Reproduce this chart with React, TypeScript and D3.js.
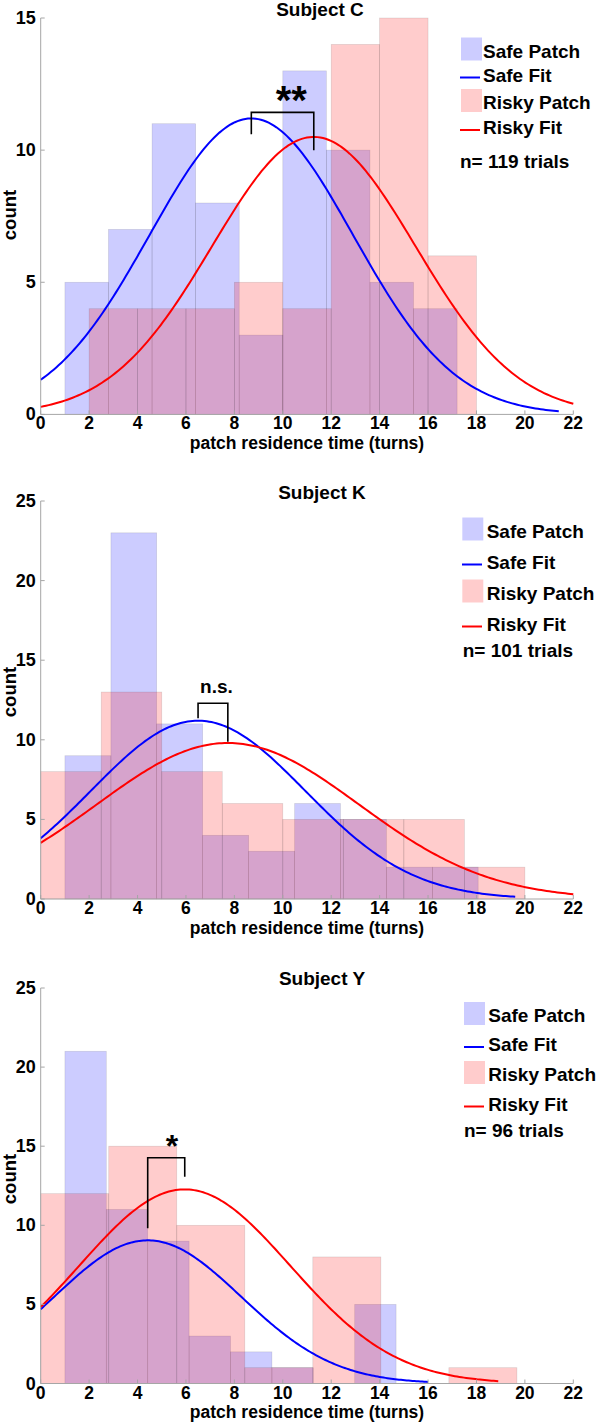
import React from 'react';
import * as d3 from 'd3';

// ---------- data ----------
const xTickValues = [0, 2, 4, 6, 8, 10, 12, 14, 16, 18, 20, 22];
const yTicksC = [0, 5, 10, 15];
const yTicksK = [0, 5, 10, 15, 20, 25];
const yTicksY = [0, 5, 10, 15, 20, 25];

const titles = ['Subject C', 'Subject K', 'Subject Y'];
const trialCounts = [119, 101, 96];
const signifLabels = ['**', 'n.s.', '*'];
const legendLabels = ['Safe Patch', 'Safe Fit', 'Risky Patch', 'Risky Fit'];
const xLabel = 'patch residence time (turns)';
const yLabel = 'count';

// Subject C
const safeEdgesC = [1, 2.8, 4.6, 6.4, 8.2, 10.0, 11.8, 13.6, 15.4, 17.2];
const safeCountsC = [5, 7, 11, 8, 3, 13, 10, 5, 4];
const riskyEdgesC = [2, 4, 6, 8, 10, 12, 14, 16, 18];
const riskyCountsC = [4, 4, 4, 5, 4, 14, 15, 6];
// fit: [amplitude, mean, sd, xStart, xEnd]
const safeFitC = [11.2, 8.7, 4.2, 0, 21.4];
const riskyFitC = [10.5, 11.28, 4.2, 0, 22];
// bracket: [xLeft, xRight, yTop, yLeftBottom, yRightBottom]
const bracketC = [8.7, 11.28, 11.43, 10.6, 10.0];

// Subject K
const safeEdgesK = [1, 2.9, 4.79, 6.69, 8.59, 10.49, 12.38, 14.28, 16.18, 18.07];
const safeCountsK = [9, 23, 11, 4, 3, 6, 5, 2, 2];
const riskyEdgesK = [0, 2.5, 5, 7.5, 10, 12.5, 15, 17.5, 20];
const riskyCountsK = [8, 13, 8, 6, 5, 5, 5, 2];
const safeFitK = [11.2, 6.5, 4.43, 0, 19.6];
const riskyFitK = [9.8, 7.73, 5.41, 0, 22];
const bracketK = [6.5, 7.73, 12.3, 11.35, 9.88];

// Subject Y
const safeEdgesY = [1, 2.71, 4.42, 6.13, 7.84, 9.55, 11.26, 12.97, 14.68];
const safeCountsY = [21, 11, 9, 3, 2, 1, 0, 5];
const riskyEdgesY = [0, 2.81, 5.62, 8.43, 11.24, 14.05, 16.86, 19.67];
const riskyCountsY = [12, 15, 10, 1, 8, 0, 1];
const safeFitY = [9.05, 4.42, 3.86, 0, 16];
const riskyFitY = [12.27, 5.95, 4.36, 0, 18.9];
const bracketY = [4.42, 5.95, 14.27, 9.81, 13.07];

const panelsData = [
  { safeEdges: safeEdgesC, safeCounts: safeCountsC, riskyEdges: riskyEdgesC, riskyCounts: riskyCountsC, safeFit: safeFitC, riskyFit: riskyFitC, bracket: bracketC, yTicks: yTicksC },
  { safeEdges: safeEdgesK, safeCounts: safeCountsK, riskyEdges: riskyEdgesK, riskyCounts: riskyCountsK, safeFit: safeFitK, riskyFit: riskyFitK, bracket: bracketK, yTicks: yTicksK },
  { safeEdges: safeEdgesY, safeCounts: safeCountsY, riskyEdges: riskyEdgesY, riskyCounts: riskyCountsY, safeFit: safeFitY, riskyFit: riskyFitY, bracket: bracketY, yTicks: yTicksY },
];

// ---------- layout ----------
const W = 596;
const H = 1422;
const X0 = 40.7;
const X1 = 573.3;
const FONT = "'Liberation Sans', Arial, Helvetica, sans-serif";
const TICK_FS = 17.5;
const LABEL_FS = 17.5;

const layouts = [
  { top: 18, bottom: 414.4, titleY: 15.5, titleX: 320, countY: 215, swatchX: 461, lineX: 460, textX: 483, nX: 460, baselines: [57.5, 81.5, 109, 134, 168], sigX: 10.35, sigDy: 1.5, sigSize: 40 },
  { top: 501, bottom: 899, titleY: 498.5, titleX: 322, countY: 692, swatchX: 462.3, lineX: 462, textX: 486.7, nX: 462.7, baselines: [537.5, 568.5, 599.5, 630.5, 657], sigX: 7.26, sigDy: -10, sigSize: 19 },
  { top: 988, bottom: 1383.5, titleY: 984.5, titleX: 322, countY: 1179, swatchX: 464, lineX: 464, textX: 488.3, nX: 464, baselines: [1022, 1051, 1081, 1110.5, 1137], sigX: 5.42, sigDy: -1, sigSize: 32 },
];

const SAFE_FILL = 'rgb(0,0,255)';
const RISKY_FILL = 'rgb(255,0,0)';
const FILL_OPACITY = 0.2;

function gaussPoints(fit: number[]) {
  const [a, mu, sd, x0, x1] = fit;
  const n = 200;
  const pts: [number, number][] = [];
  for (let i = 0; i <= n; i++) {
    const x = x0 + ((x1 - x0) * i) / n;
    pts.push([x, a * Math.exp(-((x - mu) ** 2) / (2 * sd * sd))]);
  }
  return pts;
}

function Panel({ idx }: { idx: number }) {
  const d = panelsData[idx];
  const L = layouts[idx];
  const yMax = d.yTicks[d.yTicks.length - 1];
  const x = d3.scaleLinear().domain([0, 22]).range([X0, X1]);
  const y = d3.scaleLinear().domain([0, yMax]).range([L.bottom, L.top]);
  const line = d3.line<[number, number]>().x((p) => x(p[0])).y((p) => y(p[1])).curve(d3.curveLinear);

  const bars = (edges: number[], counts: number[], fill: string, key: string) =>
    counts.map((c, i) =>
      c > 0 ? (
        <rect
          key={key + i}
          x={x(edges[i])}
          y={y(c)}
          width={x(edges[i + 1]) - x(edges[i])}
          height={y(0) - y(c)}
          fill={fill}
          fillOpacity={FILL_OPACITY}
          stroke="#000"
          strokeOpacity={0.13}
          strokeWidth={0.7}
        />
      ) : null
    );

  const [bl, br, bt, blb, brb] = d.bracket;
  const bracketPath = `M${x(bl)},${y(blb)} L${x(bl)},${y(bt)} L${x(br)},${y(bt)} L${x(br)},${y(brb)}`;
  const axisColor = '#a6a6a6';
  const sw = 21;
  const sh = 23;

  return (
    <g>
      {bars(d.safeEdges, d.safeCounts, SAFE_FILL, 's')}
      {bars(d.riskyEdges, d.riskyCounts, RISKY_FILL, 'r')}
      <path d={line(gaussPoints(d.safeFit)) || ''} fill="none" stroke="#0000ff" strokeWidth={2} />
      <path d={line(gaussPoints(d.riskyFit)) || ''} fill="none" stroke="#ff0000" strokeWidth={2} />
      <path d={bracketPath} fill="none" stroke="#000" strokeWidth={1.6} />
      <text x={x(L.sigX)} y={y(bt) + L.sigDy} textAnchor="middle" fontFamily={FONT} fontWeight="bold" fontSize={L.sigSize}>
        {signifLabels[idx]}
      </text>

      {/* axes */}
      <line x1={X0} x2={X0} y1={L.top} y2={L.bottom} stroke={axisColor} strokeWidth={1} />
      <line x1={X0} x2={X1} y1={L.bottom} y2={L.bottom} stroke={axisColor} strokeWidth={1} />
      {d.yTicks.map((t) => (
        <g key={'yt' + t}>
          <line x1={X0} x2={X0 + 4} y1={y(t)} y2={y(t)} stroke={axisColor} />
          <text x={X0 - 5} y={y(t) + 6} textAnchor="end" fontFamily={FONT} fontWeight="bold" fontSize={18}>
            {t}
          </text>
        </g>
      ))}
      {xTickValues.map((t) => (
        <g key={'xt' + t}>
          <line x1={x(t)} x2={x(t)} y1={L.bottom} y2={L.bottom - 4} stroke={axisColor} />
          <text x={x(t)} y={L.bottom + 15} textAnchor="middle" fontFamily={FONT} fontWeight="bold" fontSize={TICK_FS}>
            {t}
          </text>
        </g>
      ))}
      <text x={(X0 + X1) / 2} y={L.bottom + 34.7} textAnchor="middle" fontFamily={FONT} fontWeight="bold" fontSize={LABEL_FS}>
        {xLabel}
      </text>
      <text transform={`translate(16,${L.countY}) rotate(-90)`} textAnchor="middle" fontFamily={FONT} fontWeight="bold" fontSize={18.5}>
        {yLabel}
      </text>
      <text x={L.titleX} y={L.titleY} textAnchor="middle" fontFamily={FONT} fontWeight="bold" fontSize={19}>
        {titles[idx]}
      </text>

      {/* legend */}
      <rect x={L.swatchX} y={L.baselines[0] - 20} width={sw} height={sh} fill={SAFE_FILL} fillOpacity={FILL_OPACITY} />
      <line x1={L.lineX} x2={L.lineX + 20} y1={L.baselines[1] - 4} y2={L.baselines[1] - 4} stroke="#0000ff" strokeWidth={2} />
      <rect x={L.swatchX} y={L.baselines[2] - 20} width={sw} height={sh} fill={RISKY_FILL} fillOpacity={FILL_OPACITY} />
      <line x1={L.lineX} x2={L.lineX + 20} y1={L.baselines[3] - 4} y2={L.baselines[3] - 4} stroke="#ff0000" strokeWidth={2} />
      {legendLabels.map((lab, i) => (
        <text key={lab} x={L.textX} y={L.baselines[i]} fontFamily={FONT} fontWeight="bold" fontSize={19}>
          {lab}
        </text>
      ))}
      <text x={L.nX} y={L.baselines[4]} fontFamily={FONT} fontWeight="bold" fontSize={19}>
        {`n= ${trialCounts[idx]} trials`}
      </text>
    </g>
  );
}

export default function App() {
  return (
    <svg
      width={W}
      height={H}
      viewBox={`0 0 ${W} ${H}`}
      style={{ position: 'absolute', left: 0, top: 0, background: '#fff' }}
    >
      <rect x={0} y={0} width={W} height={H} fill="#fff" />
      {[0, 1, 2].map((i) => (
        <Panel key={i} idx={i} />
      ))}
    </svg>
  );
}
